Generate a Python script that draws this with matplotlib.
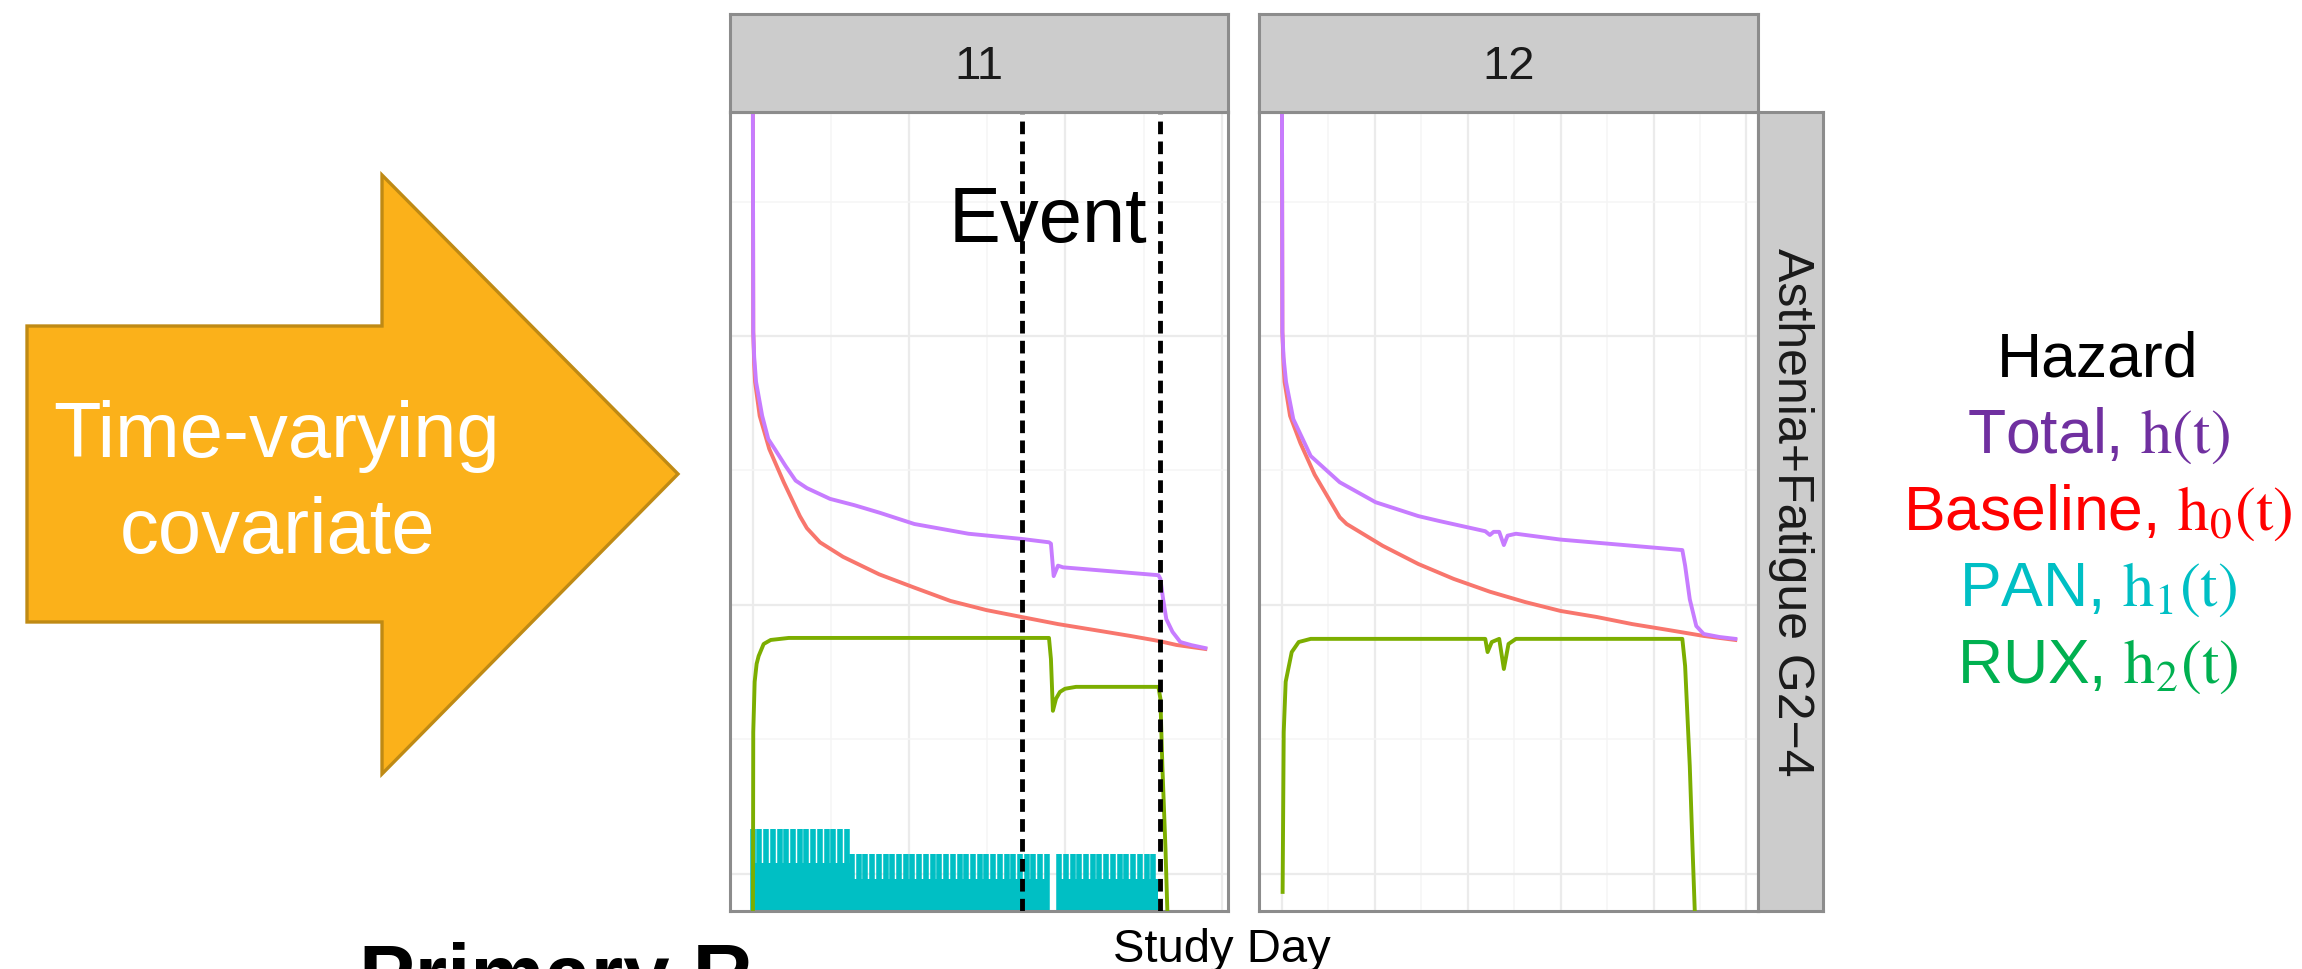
import numpy as np
import matplotlib
matplotlib.use("Agg")
import matplotlib.pyplot as plt
from matplotlib.patches import Polygon
from matplotlib.ticker import MultipleLocator, FixedLocator

plt.rcParams["font.family"] = ["Liberation Sans", "DejaVu Sans"]
plt.rcParams["mathtext.fontset"] = "stix"

W, H = 2302, 970

# ---- hazard components, study day vs hazard (per day) ----
p11_total_day = [0.3, 0.8, 2.0, 4.4, 12.2, 20, 28.3, 42, 55, 69.4, 99, 130, 163, 206.8, 276,
                 344, 379, 381.5, 385, 390.5, 397, 437, 519, 521.5, 525, 529, 537, 547, 561, 579]
p11_total_h = [0.76, 0.1035, 0.0835, 0.0675, 0.0505, 0.0414, 0.0380, 0.0329, 0.0290, 0.0272, 0.0248,
               0.0235, 0.0220, 0.0200, 0.0184, 0.0176, 0.0171, 0.0169, 0.0128, 0.0140, 0.0138, 0.0135,
               0.0129, 0.0125, 0.0105, 0.00887, 0.00794, 0.00728, 0.00709, 0.00691]

p11_base_day = [0.3, 0.8, 2.0, 3.1, 9.0, 21.3, 39.8, 60.4, 69.4, 86.1, 115.6, 161.8,
                206.8, 253, 299, 344, 390.5, 437, 483, 519, 542, 579]
p11_base_h = [0.76, 0.1035, 0.0780, 0.0675, 0.0505, 0.0380, 0.0286, 0.0214, 0.0193,
              0.0171, 0.0151, 0.0130, 0.0116, 0.01035, 0.00957, 0.00902, 0.00849, 0.00807, 0.00767,
              0.00735, 0.00710, 0.00686]

p11_rux_day = [0.3, 0.8, 2.6, 5.1, 7.7, 14.1, 23.1, 46.2, 379, 381.5, 384, 388, 393, 399.5, 413.6,
               519, 521.5, 524, 528, 530.5]
p11_rux_h = [0.0005, 0.00337, 0.00518, 0.00604, 0.00646, 0.00716, 0.00741, 0.00754, 0.00754, 0.00629,
             0.00404, 0.00448, 0.00475, 0.00488, 0.00496, 0.00496, 0.00448, 0.00252, 0.00124, 0.00071]

# PAN dosing blocks: start/end day, peak and trough hazard within each block
p11_pan_start = [0, 127, 392]
p11_pan_end = [127, 379, 519]
p11_pan_peak = [0.00147, 0.00119, 0.00119]
p11_pan_trough = [0.00110, 0.00096, 0.00096]
pan_dose_interval = 8.6

p12_total_day = [0.3, 0.75, 2.0, 4.7, 12.5, 31.2, 62.4, 101, 147, 170, 219, 224, 228, 234, 239, 243,
                 252, 300, 377, 431, 434, 439, 446, 454, 471, 488]
p12_total_h = [0.76, 0.1035, 0.0835, 0.0675, 0.0491, 0.0358, 0.0286, 0.0241, 0.0214, 0.0205, 0.0188,
               0.0182, 0.0187, 0.0187, 0.0167, 0.0181, 0.0184, 0.0175, 0.0166, 0.0160, 0.0140, 0.0105,
               0.00835, 0.00780, 0.00760, 0.00748]

p12_base_day = [0.3, 0.75, 2.0, 3.1, 9.0, 20.1, 35.5, 62.4, 69.9, 108.6, 147, 185, 224, 262, 300,
                339, 377, 416, 454, 488]
p12_base_h = [0.76, 0.1035, 0.0780, 0.0675, 0.0505, 0.0400, 0.0305, 0.0212, 0.0200, 0.0166, 0.0142,
              0.0125, 0.0112, 0.01025, 0.00950, 0.00902, 0.00849, 0.00807, 0.00767, 0.00741]

p12_rux_day = [1.0, 2.2, 4.3, 10.8, 18.3, 31.2, 219, 221.5, 226, 234, 239, 244, 252, 431, 434, 439,
               442, 444.5]
p12_rux_h = [0.000857, 0.00337, 0.00518, 0.00668, 0.00728, 0.00748, 0.00748, 0.00668, 0.00728,
             0.00748, 0.00578, 0.00716, 0.00748, 0.00748, 0.00593, 0.00252, 0.00124, 0.00071]

p11_events = [344, 521]

legend_labels = ["Total, $\\mathrm{h(t)}$", "Baseline, $\\mathrm{h_0(t)}$",
                 "PAN, $\\mathrm{h_1(t)}$", "RUX, $\\mathrm{h_2(t)}$"]
legend_colors = ["#7030A0", "#FF0000", "#00BFC4", "#00B050"]

C_TOTAL, C_BASE, C_PAN, C_RUX = "#C77CFF", "#F8766D", "#00BFC4", "#7CAE00"
STRIP, BORDER = "#CCCCCC", "#8C8C8C"
LW = 2.8

fig = plt.figure(figsize=(W / 100, H / 100), dpi=100)


def box(x0, y0, x1, y1):
    # pixel box (top-left origin) -> figure fraction rect
    return [x0 / W, 1 - y1 / H, (x1 - x0) / W, (y1 - y0) / H]


# background layer for the arrow and free text
deco = fig.add_axes([0, 0, 1, 1], zorder=-1)
deco.set_xlim(0, W)
deco.set_ylim(H, 0)
deco.axis("off")

arrow = Polygon([(27, 327), (382, 327), (382, 176), (678, 475), (382, 775), (382, 623), (27, 623)],
                closed=True, facecolor="#FBB11A", edgecolor="#BF8A14", lw=2.4)
deco.add_patch(arrow)
deco.text(277, 457, "Time-varying", color="white", fontsize=56, ha="center", va="baseline")
deco.text(278, 553, "covariate", color="white", fontsize=56, ha="center", va="baseline")

deco.text(2098, 377, "Hazard", fontsize=45, ha="center", va="baseline")
for i, (lab, col) in enumerate(zip(legend_labels, legend_colors)):
    deco.text(2098, 453 + 76.5 * i, lab, color=col, fontsize=45, ha="center", va="baseline")

deco.text(1222, 962, "Study Day", fontsize=34, ha="center", va="baseline")
deco.text(359, 1003, "Primary R", fontsize=60, fontweight="bold", ha="left", va="baseline")


def hazard_panel(px, label, total, base, rux, pan=None, events=(), major=200):
    ax = fig.add_axes(box(px[0], 113, px[1], 912))
    t_max = max(total[0])
    ax.set_xlim(-0.05 * t_max, 1.05 * t_max)
    ax.set_yscale("log")
    ax.set_ylim(10 ** -3.138, 10 ** -0.167)

    ax.xaxis.set_major_locator(MultipleLocator(major))
    ax.xaxis.set_minor_locator(MultipleLocator(major / 2))
    ax.yaxis.set_major_locator(FixedLocator([1e-3, 1e-2, 1e-1]))
    ax.yaxis.set_minor_locator(FixedLocator([10 ** -2.5, 10 ** -1.5, 10 ** -0.5]))
    ax.grid(which="major", color="#EBEBEB", lw=1.6)
    ax.grid(which="minor", color="#F5F5F5", lw=1.1)
    ax.set_axisbelow(True)
    ax.tick_params(which="both", length=0, labelbottom=False, labelleft=False)
    for s in ax.spines.values():
        s.set_color(BORDER)
        s.set_linewidth(2.2)

    if pan is not None:
        for s, e, pk, tr in zip(*pan):
            ax.fill_between([s, e], 1e-4, tr, color=C_PAN, lw=0, zorder=2)
            ax.vlines(np.arange(s, e, pan_dose_interval), 1e-4, pk, color=C_PAN, lw=4.0, zorder=2)

    ax.plot(*base, color=C_BASE, lw=LW, zorder=3)
    ax.plot(*rux, color=C_RUX, lw=LW, zorder=3)
    ax.plot(*total, color=C_TOTAL, lw=LW, zorder=3)
    for d in events:
        ax.axvline(d, color="black", lw=3.5, ls=(0, (2.6, 1.5)), zorder=4)

    strip = fig.add_axes(box(px[0], 15, px[1], 113))
    strip.set_facecolor(STRIP)
    strip.set_xticks([])
    strip.set_yticks([])
    for s in strip.spines.values():
        s.set_color(BORDER)
        s.set_linewidth(2.2)
    strip.text(0.5, 0.47, label, fontsize=34, color="#1A1A1A", ha="center", va="center",
               transform=strip.transAxes)
    return ax


ax11 = hazard_panel((730, 1228), "11", (p11_total_day, p11_total_h), (p11_base_day, p11_base_h),
                    (p11_rux_day, p11_rux_h),
                    pan=(p11_pan_start, p11_pan_end, p11_pan_peak, p11_pan_trough),
                    events=p11_events, major=200)
ax11.text(378, 0.2254, "Event", fontsize=56, ha="center", va="baseline", zorder=5)

ax12 = hazard_panel((1259, 1758), "12", (p12_total_day, p12_total_h), (p12_base_day, p12_base_h),
                    (p12_rux_day, p12_rux_h), major=100)

side = fig.add_axes(box(1758, 113, 1823, 912))
side.set_facecolor(STRIP)
side.set_xticks([])
side.set_yticks([])
for s in side.spines.values():
    s.set_color(BORDER)
    s.set_linewidth(2.2)
side.text(0.5, 0.5, "Asthenia+Fatigue G2\u22124", fontsize=36, color="#1A1A1A", rotation=-90,
          ha="center", va="center", transform=side.transAxes)

fig.savefig("out.png", dpi=100)
